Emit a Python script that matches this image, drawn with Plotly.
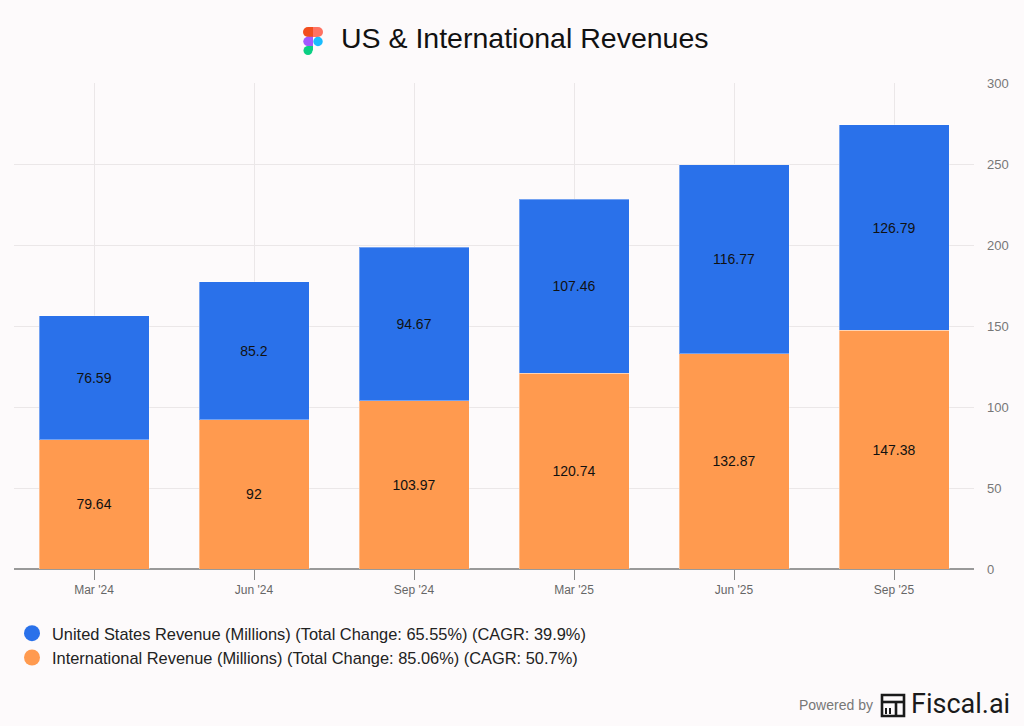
import plotly.graph_objects as go

categories = ["Mar '24", "Jun '24", "Sep '24", "Mar '25", "Jun '25", "Sep '25"]
intl_values = [79.64, 92, 103.97, 120.74, 132.87, 147.38]
us_values = [76.59, 85.2, 94.67, 107.46, 116.77, 126.79]
us_name = "United States Revenue (Millions) (Total Change: 65.55%) (CAGR: 39.9%)"
intl_name = "International Revenue (Millions) (Total Change: 85.06%) (CAGR: 50.7%)"
y_ticks = [0, 50, 100, 150, 200, 250, 300]

BLUE = "#2a71ea"
ORANGE = "#ff9a4f"
BG = "#fdfafb"

W, H = 1024, 726
L, R, T, B = 14, 50, 83, 157
PW, PH = W - L - R, H - T - B


def px(x):
    return (x - L) / PW


def py(y):
    return (H - B - y) / PH


fig = go.Figure()
fig.add_trace(go.Bar(
    x=categories, y=intl_values, name=intl_name, marker_color=ORANGE,
    marker_line=dict(width=1, color="rgba(255,255,255,0.35)"),
    text=[f"{v:g}" for v in intl_values], textposition="inside", textangle=0,
    insidetextanchor="middle", textfont=dict(color="#111", size=14),
    showlegend=False, hoverinfo="skip"))
fig.add_trace(go.Bar(
    x=categories, y=us_values, name=us_name, marker_color=BLUE,
    marker_line=dict(width=1, color="rgba(255,255,255,0.35)"),
    text=[f"{v:g}" for v in us_values], textposition="inside", textangle=0,
    insidetextanchor="middle", textfont=dict(color="#111", size=14),
    showlegend=False, hoverinfo="skip"))
# legend entries with circular markers
fig.add_trace(go.Scatter(x=[None], y=[None], mode="markers", name=us_name,
                         marker=dict(color=BLUE, size=16, symbol="circle")))
fig.add_trace(go.Scatter(x=[None], y=[None], mode="markers", name=intl_name,
                         marker=dict(color=ORANGE, size=16, symbol="circle")))

shapes = []


def circ(cx, cy, r, color):
    return dict(type="circle", xref="paper", yref="paper",
                x0=px(cx - r), x1=px(cx + r), y0=py(cy + r), y1=py(cy - r),
                fillcolor=color, line_width=0, layer="above")


def rect(x0, y0, x1, y1, color):
    return dict(type="rect", xref="paper", yref="paper",
                x0=px(x0), x1=px(x1), y0=py(y1), y1=py(y0),
                fillcolor=color, line_width=0, layer="above")

# Figma logo
shapes += [
    circ(308, 32, 5, "#f24e1e"), rect(308, 27, 313, 37, "#f24e1e"),
    circ(318, 32, 5, "#ff7262"), rect(313, 27, 318, 37, "#ff7262"),
    circ(308, 41.5, 4.75, "#a259ff"), rect(308, 36.75, 313, 46.25, "#a259ff"),
    circ(318, 41.5, 4.75, "#1abcfe"),
    circ(308, 50.5, 4.5, "#0acf83"), rect(308, 46, 313, 50.5, "#0acf83"),
]
# Fiscal.ai icon
ic = dict(xref="paper", yref="paper", layer="above")
shapes += [
    dict(type="rect", x0=px(882), x1=px(904), y0=py(716), y1=py(695),
         line=dict(color="#1a1a1a", width=2.6), fillcolor="rgba(0,0,0,0)", **ic),
    dict(type="line", x0=px(882), x1=px(904), y0=py(702), y1=py(702),
         line=dict(color="#1a1a1a", width=2.6), **ic),
    dict(type="line", x0=px(896), x1=px(896), y0=py(702), y1=py(716),
         line=dict(color="#1a1a1a", width=2.6), **ic),
    dict(type="line", x0=px(886), x1=px(886), y0=py(708), y1=py(714),
         line=dict(color="#1a1a1a", width=2), **ic),
    dict(type="line", x0=px(890), x1=px(890), y0=py(708), y1=py(714),
         line=dict(color="#1a1a1a", width=2), **ic),
]

annotations = [
    dict(text="US & International Revenues", xref="paper", yref="paper",
         x=px(339), y=py(38), xanchor="left", yanchor="middle", showarrow=False,
         font=dict(size=28.5, color="#111", family="Liberation Sans, Arial, sans-serif")),
    dict(text="Powered by", xref="paper", yref="paper", x=px(875), y=py(705),
         xanchor="right", yanchor="middle", showarrow=False,
         font=dict(size=14, color="#777", family="Liberation Sans, Arial, sans-serif")),
    dict(text="Fiscal.ai", xref="paper", yref="paper", x=px(909), y=py(704),
         xanchor="left", yanchor="middle", showarrow=False,
         font=dict(size=27, color="#1a1a1a", family="Roboto, Liberation Sans, sans-serif")),
]

fig.update_layout(
    width=W, height=H, margin=dict(l=L, r=R, t=T, b=B, autoexpand=False),
    paper_bgcolor=BG, plot_bgcolor=BG,
    barmode="stack", bargap=0.3125,
    font=dict(family="Liberation Sans, Arial, sans-serif", color="#333"),
    shapes=shapes, annotations=annotations,
    legend=dict(xref="container", yref="container", x=12 / W, y=1 - 616 / H,
                xanchor="left", yanchor="top", orientation="v",
                traceorder="normal",
                font=dict(size=16.4, color="#222"), bgcolor="rgba(0,0,0,0)",
                tracegroupgap=0, itemwidth=30),
    xaxis=dict(showgrid=True, gridcolor="#ebe7e8", gridwidth=1,
               ticks="outside", ticklen=10, tickcolor="#888", tickwidth=1,
               tickfont=dict(size=12, color="#666"), showline=False,
               zeroline=False, fixedrange=True),
    yaxis=dict(side="right", range=[0, 300], tickvals=y_ticks,
               showgrid=True, gridcolor="#ebe7e8", gridwidth=1,
               tickfont=dict(size=13, color="#777"), ticks="",
               ticklabelstandoff=12, zeroline=True, zerolinecolor="#999",
               zerolinewidth=1.5, showline=False, fixedrange=True),
    hovermode=False,
)

fig.write_html("out.html", config={"displayModeBar": False})
